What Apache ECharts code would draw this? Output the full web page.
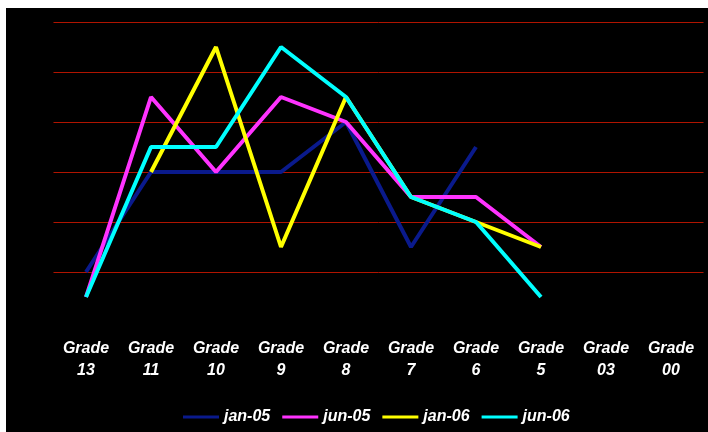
<!DOCTYPE html>
<html>
<head>
<meta charset="utf-8">
<script src="https://cdn.jsdelivr.net/npm/echarts@6/dist/echarts.min.js"></script>
<style>
  html, body { margin: 0; padding: 0; background: #fff; }
  #chart { position: absolute; left: 6px; top: 8px; width: 702px; height: 424px; }
</style>
</head>
<body>
<div id="chart"></div>
<script>
const categories = ['Grade\n13', 'Grade\n11', 'Grade\n10', 'Grade\n9', 'Grade\n8', 'Grade\n7', 'Grade\n6', 'Grade\n5', 'Grade\n03', 'Grade\n00']
const jan05 = [1, 3, 3, 3, 4, 1.5, 3.5, null, null, null]
const jun05 = [0.5, 4.5, 3, 4.5, 4, 2.5, 2.5, 1.5, null, null]
const jan06 = [null, 3, 5.5, 1.5, 4.5, 2.5, 2, 1.5, null, null]
const jun06 = [0.5, 3.5, 3.5, 5.5, 4.5, 2.5, 2, 0.5, null, null]

const chart = echarts.init(document.getElementById('chart'))

const line = (name, data, color, width) => ({
  name,
  type: 'line',
  data,
  symbol: 'none',
  connectNulls: false,
  color,
  lineStyle: { color, width },
})

chart.setOption({
  backgroundColor: '#000',
  animation: false,
  grid: { left: 47.5, right: 4.5, top: 14, bottom: 110 },
  legend: {
    left: 172,
    top: 396,
    itemWidth: 36,
    itemHeight: 10,
    itemGap: 12,
    icon: 'path://M0,3.5L36,3.5L36,6.5L0,6.5Z',
    textStyle: { color: '#fff', fontFamily: 'Liberation Sans', fontWeight: 'bold', fontStyle: 'italic', fontSize: 16 },
    data: ['jan-05', 'jun-05', 'jan-06', 'jun-06'],
  },
  xAxis: {
    type: 'category',
    data: categories,
    boundaryGap: true,
    axisLine: { show: false },
    axisTick: { show: false },
    axisLabel: {
      color: '#fff',
      fontFamily: 'Liberation Sans',
      fontWeight: 'bold',
      fontStyle: 'italic',
      fontSize: 16,
      lineHeight: 22,
      margin: 16,
      interval: 0,
    },
  },
  yAxis: {
    type: 'value',
    min: 0,
    max: 6,
    interval: 1,
    axisLine: { show: false },
    axisTick: { show: false },
    axisLabel: { show: false },
    splitLine: { showMinLine: false, lineStyle: { color: '#b01400', width: 1 } },
  },
  series: [
    line('jan-05', jan05, '#0a1a8c', 4),
    line('jun-05', jun05, '#ff33ff', 4),
    line('jan-06', jan06, '#ffff00', 4),
    line('jun-06', jun06, '#00ffff', 4),
  ],
})
</script>
</body>
</html>
